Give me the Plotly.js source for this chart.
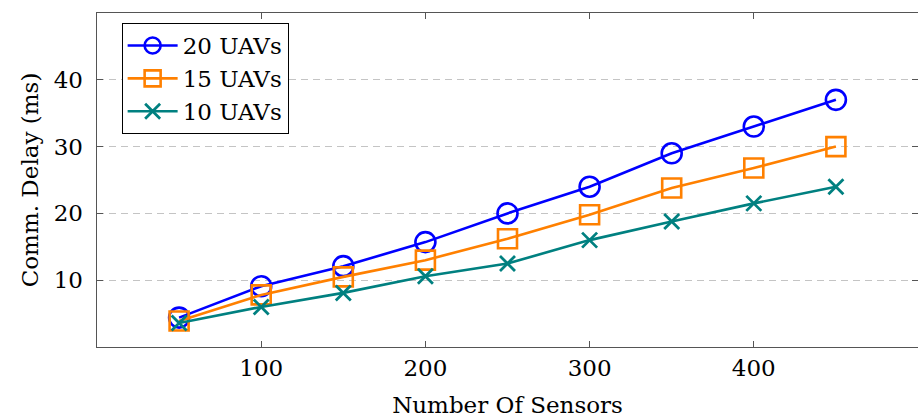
<!DOCTYPE html>
<html>
<head>
<meta charset="utf-8">
<script src="https://cdn.plot.ly/plotly-3.0.1.min.js"></script>
<style>html,body{margin:0;padding:0;background:#fff;}#chart{width:918px;height:420px;}</style>
</head>
<body>
<div id="chart"></div>
<script>
const sensors = [50, 100, 150, 200, 250, 300, 350, 400, 450];
const uav20 = [4.4, 9.1, 12.1, 15.7, 20.0, 24.0, 29.0, 33.0, 37.0];
const uav15 = [3.9, 7.8, 10.5, 13.0, 16.2, 19.8, 23.8, 26.8, 30.0];
const uav10 = [3.6, 6.0, 8.1, 10.6, 12.5, 16.0, 18.8, 21.5, 24.0];
const seriesNames = ['20 UAVs', '15 UAVs', '10 UAVs'];
const xTicks = [100, 200, 300, 400];
const yTicks = [10, 20, 30, 40];

const FONT = 'DejaVu Serif, serif';
const FS = 23;

const traces = [
  {x: sensors, y: uav20, name: seriesNames[0], mode: 'lines+markers', type: 'scatter',
   line: {color: '#0000ff', width: 2.6},
   marker: {symbol: 'circle-open', size: 20, color: '#0000ff', line: {width: 2.6, color: '#0000ff'}}},
  {x: sensors, y: uav15, name: seriesNames[1], mode: 'lines+markers', type: 'scatter',
   line: {color: '#ff8000', width: 2.6},
   marker: {symbol: 'square-open', size: 19, color: '#ff8000', line: {width: 2.6, color: '#ff8000'}}},
  {x: sensors, y: uav10, name: seriesNames[2], mode: 'lines+markers', type: 'scatter',
   line: {color: '#008080', width: 2.6},
   marker: {symbol: 'x-thin-open', size: 15, color: '#008080', line: {width: 2.8, color: '#008080'}}}
];

const layout = {
  width: 918, height: 420,
  margin: {l: 97, r: 0, t: 13, b: 73},
  paper_bgcolor: '#ffffff', plot_bgcolor: '#ffffff',
  font: {family: FONT, size: FS, color: '#000'},
  showlegend: true,
  legend: {x: 0.03, y: 0.97, xanchor: 'left', yanchor: 'top',
    bordercolor: '#000', borderwidth: 1, bgcolor: '#fff', itemwidth: 50,
    font: {family: FONT, size: FS, color: '#000'}, tracegroupgap: 0},
  xaxis: {
    range: [0, 500], tickvals: xTicks, ticktext: xTicks.map(String),
    ticks: 'inside', ticklen: 6, tickcolor: '#555', tickwidth: 1.2,
    showline: true, linecolor: '#555', linewidth: 1.4, mirror: 'ticks',
    showgrid: false, zeroline: false,
    tickfont: {family: FONT, size: FS, color: '#000'},
    ticklabelstandoff: 0,
    title: {text: 'Number Of Sensors', font: {family: FONT, size: FS, color: '#000'}, standoff: 17}
  },
  yaxis: {
    range: [0, 50], tickvals: yTicks, ticktext: yTicks.map(String),
    ticks: 'inside', ticklen: 6, tickcolor: '#555', tickwidth: 1.2,
    showline: true, linecolor: '#555', linewidth: 1.4, mirror: 'ticks',
    showgrid: true, gridcolor: '#c4c4c4', gridwidth: 1, griddash: '7px,5px',
    zeroline: false,
    tickfont: {family: FONT, size: FS, color: '#000'},
    ticklabelstandoff: 8,
    title: {text: 'Comm. Delay (ms)', font: {family: FONT, size: FS, color: '#000'}, standoff: 8}
  }
};

Plotly.newPlot('chart', traces, layout, {displayModeBar: false, staticPlot: true});
</script>
</body>
</html>
